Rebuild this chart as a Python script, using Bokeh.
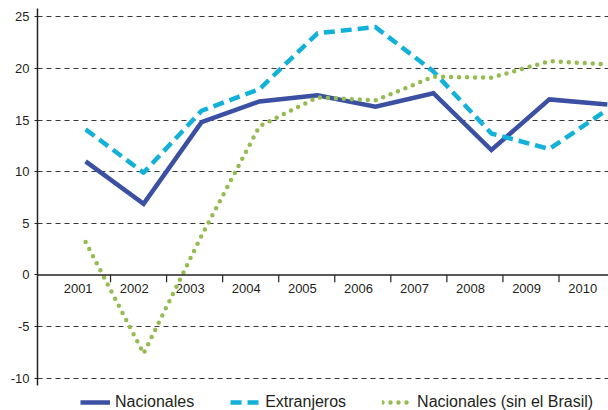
from bokeh.plotting import figure
from bokeh.models import (Range1d, LinearAxis, FixedTicker, Legend, LegendItem, Span)
from bokeh.core.properties import value
from bokeh.embed import file_html
from bokeh.resources import INLINE

# Annual growth rates (%) by type of investor
years = ["2001", "2002", "2003", "2004", "2005", "2006", "2007", "2008", "2009", "2010"]
nacionales = [11.0, 6.9, 14.8, 16.8, 17.4, 16.3, 17.6, 12.1, 17.0, 16.5]
extranjeros = [14.1, 9.9, 15.9, 18.0, 23.4, 24.0, 19.7, 13.7, 12.2, 16.0]
nacionales_sin_brasil = [3.2, -7.6, 3.8, 14.4, 17.2, 16.9, 19.2, 19.1, 20.7, 20.4]
y_ticks = [-10, -5, 0, 5, 10, 15, 20, 25]

xs = list(range(len(years)))
FONT = "Liberation Sans"
TEXT = "#231f20"
AXIS = "#222222"

# The value axis runs from Y_LO to Y_HI; the frame continues below it to hold the legend
W, H = 608, 410
TOP, AXIS_BOTTOM = 8, 385
Y_HI, Y_LO = 25.8, -10.7
y_min = Y_HI - (Y_HI - Y_LO) * (H - TOP) / (AXIS_BOTTOM - TOP)

p = figure(width=W, height=H, output_backend="svg", toolbar_location=None,
           x_range=Range1d(-0.83, 9.02), y_range=Range1d(y_min, Y_HI),
           x_axis_location=None, y_axis_location=None,
           min_border_left=37, min_border_right=0, min_border_top=TOP,
           min_border_bottom=0)
p.outline_line_color = None
p.background_fill_color = "white"
p.border_fill_color = "white"

# Left value axis
yax = LinearAxis(ticker=FixedTicker(ticks=y_ticks), bounds=(Y_LO, Y_HI))
yax.major_label_overrides = {t: str(t) for t in y_ticks}
yax.axis_line_color = AXIS
yax.axis_line_width = 1.5
yax.major_tick_line_color = AXIS
yax.major_tick_out = 3
yax.major_tick_in = 0
yax.minor_tick_line_color = None
yax.major_label_text_font = FONT
yax.major_label_text_font_size = "13px"
yax.major_label_text_color = TEXT
yax.major_label_standoff = 5
p.add_layout(yax, "left")

p.xgrid.visible = False
p.ygrid.ticker = FixedTicker(ticks=[t for t in y_ticks if t != 0])
p.ygrid.grid_line_color = "#383838"
p.ygrid.grid_line_dash = "5 4"
p.ygrid.grid_line_width = 1

# Category axis drawn across zero: baseline, separators between years, year labels
BAND = 0.967
label_x = [i * BAND - 0.06 for i in xs]
bounds = [0.43 + i * BAND for i in xs[:-1]]
p.add_layout(Span(location=0, dimension="width", line_color=AXIS, line_width=1.5))
p.segment(x0=bounds, y0=[0] * len(bounds), x1=bounds, y1=[-0.7] * len(bounds),
          line_color=AXIS, line_width=1.2)
p.text(x=label_x, y=[0] * len(xs), text=years, text_font=value(FONT),
       text_font_size="13px", text_color=TEXT, text_align="center",
       text_baseline="top", x_offset=-4, y_offset=9)

r1 = p.line(xs, nacionales, line_color="#3b4fa3", line_width=4.5, line_join="miter")
r2 = p.line(xs, extranjeros, line_color="#11b1da", line_width=4.5,
            line_dash="11 6", line_join="round")
r3 = p.line(xs, nacionales_sin_brasil, line_color="#95bc50", line_width=4.5,
            line_dash="0 8", line_cap="round")

legend = Legend(items=[LegendItem(label="Nacionales", renderers=[r1]),
                       LegendItem(label="Extranjeros", renderers=[r2]),
                       LegendItem(label="Nacionales (sin el Brasil)", renderers=[r3])],
                orientation="horizontal", location=(43, -1),
                label_text_font=FONT, label_text_font_size="16px",
                label_text_color=TEXT, glyph_width=30, glyph_height=16,
                label_standoff=5, spacing=36, padding=2, margin=0,
                border_line_color=None, background_fill_alpha=0)
p.add_layout(legend)

open("out.html", "w").write(file_html(p, INLINE))
